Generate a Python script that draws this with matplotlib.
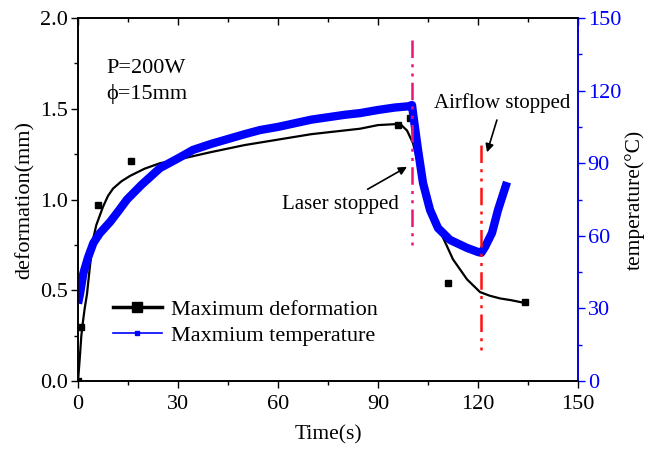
import numpy as np
import matplotlib.pyplot as plt
from matplotlib.lines import Line2D
from matplotlib.ticker import MultipleLocator

plt.rcParams['font.family'] = ['Liberation Serif', 'DejaVu Serif']

# measured deformation (markers)
def_time = [0, 1, 6, 16, 96, 99.5, 111, 134]
def_mm = [0.0, 0.30, 0.97, 1.21, 1.41, 1.45, 0.54, 0.435]

# fitted deformation curve
fit_time = [0, 0.5, 1, 1.5, 2, 2.7, 3.5, 4.5, 5.5, 6.5, 7.5, 9, 10.5, 13, 15.6, 20,
            24.6, 30, 39.6, 50, 60, 70, 84.6, 90, 95, 97, 98.7, 100.5, 102.6, 104.7,
            106.5, 109.5, 112.5, 116.7, 120.6, 123.5, 126.6, 130, 134]
fit_mm = [0.0, 0.12, 0.25, 0.33, 0.40, 0.48, 0.62, 0.78, 0.86, 0.91, 0.96, 1.02, 1.06,
          1.10, 1.13, 1.17, 1.20, 1.22, 1.26, 1.30, 1.33, 1.36, 1.39, 1.41, 1.415, 1.41,
          1.38, 1.31, 1.16, 1.04, 0.93, 0.79, 0.67, 0.56, 0.49, 0.47, 0.455, 0.445, 0.43]

# maximum temperature
temp_time = [0, 0.6, 1.6, 3, 4.6, 6.5, 9.6, 12, 14.7, 19, 24.6, 30, 34.5, 40, 45, 50,
             54.6, 60, 65, 70, 75, 80, 84.6, 90, 95, 99, 100.2, 100.5, 102, 103.5, 105.6,
             108, 111.6, 116.7, 120, 121, 122.1, 124.2, 126, 128.7]
temp_c = [32, 36, 44.5, 51, 57, 61, 65.7, 70, 75, 81, 88, 92, 95.5, 98, 100, 102,
          103.7, 105, 106.5, 108, 109, 110, 110.7, 112, 113, 113.5, 114, 110.7, 95.5, 81.8,
          70.7, 63.2, 58.3, 55, 53.3, 53, 55.4, 61.2, 70.7, 82.2]

fig = plt.figure(figsize=(6.48, 4.57), dpi=100)
ax = fig.add_axes([0.1204, 0.1663, 0.7716, 0.7943])
ax2 = ax.twinx()

ax.plot(fit_time, fit_mm, color='black', lw=1.6, zorder=2)
ax.plot(def_time, def_mm, 's', color='black', ms=5, zorder=3)
ax2.plot(temp_time, temp_c, color='#0000ff', lw=6, solid_capstyle='butt',
         solid_joinstyle='round', zorder=2)

dash = (7, 2.5, 1.2, 2.5, 1.2, 2.5)
ax2.plot([100.3, 100.3], [141, 55], color='#e8157f', lw=1.8, dashes=dash, zorder=4)
ax2.plot([120.8, 120.8], [97.5, 12.5], color='#ff1010', lw=1.8, dashes=dash, zorder=4)

ax.annotate('Laser stopped', xy=(98.7, 1.18), xytext=(78.6, 0.97), fontsize=15,
            ha='center', va='center',
            arrowprops=dict(arrowstyle='-|>', color='black', lw=1.2, mutation_scale=12,
                            shrinkA=5, shrinkB=0))
ax.annotate('Airflow stopped', xy=(122.7, 1.26), xytext=(127.2, 1.53), fontsize=15,
            ha='center', va='center',
            arrowprops=dict(arrowstyle='-|>', color='black', lw=1.2, mutation_scale=12,
                            shrinkA=3, shrinkB=0))

ax.text(8.5, 1.72, 'P=200W', fontsize=16, va='center')
ax.text(8.5, 1.58, '\u03d5=15mm', fontsize=16, va='center')

ax.set_xlim(0, 150)
ax.set_ylim(0, 2.0)
ax2.set_ylim(0, 150)
ax.xaxis.set_major_locator(MultipleLocator(30))
ax.xaxis.set_minor_locator(MultipleLocator(15))
ax.yaxis.set_major_locator(MultipleLocator(0.5))
ax.yaxis.set_minor_locator(MultipleLocator(0.25))
ax2.yaxis.set_major_locator(MultipleLocator(30))
ax2.yaxis.set_minor_locator(MultipleLocator(15))
ax.yaxis.set_major_formatter(plt.FormatStrFormatter('%.1f'))

ax.tick_params(which='both', direction='out', labelsize=16, top=True, pad=2)
ax.tick_params(axis='x', which='major', pad=5)
ax.tick_params(which='major', length=5, width=1)
ax.tick_params(which='minor', length=3, width=1)
ax2.tick_params(which='both', direction='out', colors='#0000ff', labelsize=16, pad=2)
ax2.tick_params(which='major', length=5, width=1)
ax2.tick_params(which='minor', length=3, width=1)
ax2.spines['right'].set_color('#0000ff')
for s in ax.spines.values():
    s.set_linewidth(1.2)
for s in ax2.spines.values():
    s.set_linewidth(1.2)

# top ticks point inward (mirrored axis)
for t in ax.xaxis.get_major_ticks() + ax.xaxis.get_minor_ticks():
    t.tick2line.set_marker(3)

ax.set_xlabel('Time(s)', fontsize=15.5, labelpad=8)
ax.set_ylabel('deformation(mm)', fontsize=16, labelpad=4)
ax2.set_ylabel('temperature(\u00b0C)', fontsize=15.5, color='black', labelpad=3)

handles = [Line2D([], [], color='black', lw=2.5, marker='s', ms=7),
           Line2D([], [], color='#0000ff', lw=1.2, marker='s', ms=2.5)]
ax2.legend(handles, ['Maximum deformation', 'Maxmium temperature'], loc='center left',
           bbox_to_anchor=(0.07, 0.16), frameon=False, fontsize=16, handlelength=2.2,
           borderpad=0, borderaxespad=0, labelspacing=0.25, handletextpad=0.4)

fig.savefig('out.png', dpi=100)
